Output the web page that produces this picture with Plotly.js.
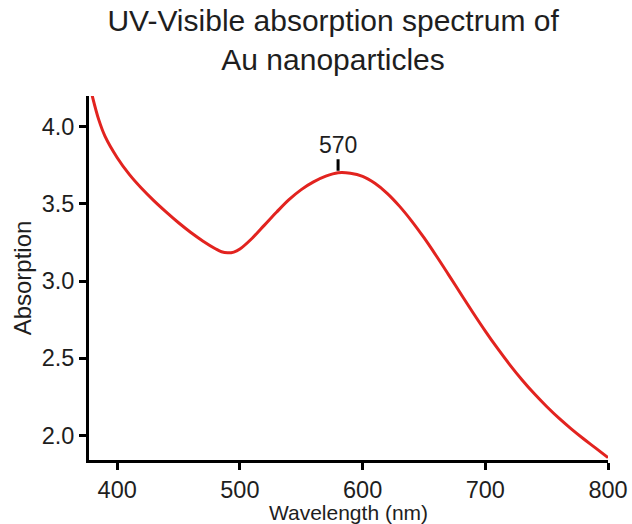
<!DOCTYPE html>
<html>
<head>
<meta charset="utf-8">
<script src="https://cdn.plot.ly/plotly-3.0.1.min.js"></script>
<style>html,body{margin:0;padding:0;background:#fff;}#chart{width:632px;height:524px;}</style>
</head>
<body>
<div id="chart"></div>
<script>
// Wavelength (nm)
const wavelength = [378, 380, 385, 390, 400, 410, 420, 430, 440, 450, 460, 470, 480, 485, 490, 495, 500, 510, 520, 530, 540, 550, 560, 570, 580, 590, 600, 610, 620, 630, 640, 650, 660, 670, 680, 690, 700, 710, 720, 730, 740, 750, 760, 770, 780, 790, 800];
// Absorption
const absorption = [4.26, 4.19, 4.045, 3.94, 3.80, 3.69, 3.60, 3.52, 3.447, 3.378, 3.315, 3.259, 3.21, 3.19, 3.183, 3.188, 3.208, 3.278, 3.363, 3.448, 3.528, 3.593, 3.643, 3.680, 3.702, 3.699, 3.679, 3.634, 3.569, 3.486, 3.389, 3.281, 3.164, 3.042, 2.918, 2.795, 2.676, 2.563, 2.457, 2.359, 2.269, 2.187, 2.111, 2.042, 1.978, 1.917, 1.855];
const peakLabel = "570";
const xTicks = [400, 500, 600, 700, 800];
const yTicks = [2.0, 2.5, 3.0, 3.5, 4.0];

// locate the interior local maximum (the plasmon peak)
let iPeak = 1;
for (let i = 1; i < absorption.length - 1; i++) {
  if (absorption[i] > absorption[i - 1] && absorption[i] >= absorption[i + 1]) { iPeak = i; break; }
}

const font = "Liberation Sans, Arial, Helvetica, sans-serif";
const textColor = "#1e1e1e";

const trace = {
  x: wavelength,
  y: absorption,
  type: "scatter",
  mode: "lines",
  line: {color: "#e2231f", width: 3, shape: "spline", smoothing: 1},
  hoverinfo: "x+y",
  showlegend: false
};

const axisCommon = {
  showline: true,
  linecolor: "#000",
  linewidth: 3,
  ticks: "outside",
  tickwidth: 3,
  ticklen: 7,
  tickcolor: "#000",
  showgrid: false,
  zeroline: false,
  tickfont: {family: font, size: 23.5, color: textColor}
};

const layout = {
  width: 632,
  height: 524,
  margin: {l: 89, r: 24, t: 96, b: 64, pad: 0},
  paper_bgcolor: "#fff",
  plot_bgcolor: "#fff",
  font: {family: font, color: textColor},
  title: {
    text: "UV-Visible absorption spectrum of<br>Au nanoparticles",
    font: {family: font, size: 30, color: textColor},
    x: 0.527,
    xanchor: "center",
    xref: "container",
    y: 0.94,
    yref: "container",
    yanchor: "middle"
  },
  xaxis: Object.assign({}, axisCommon, {
    range: [377, 800],
    tickmode: "array",
    tickvals: xTicks,
    ticktext: xTicks.map(String),
    title: {text: "Wavelength (nm)", font: {family: font, size: 21, color: textColor}, standoff: 2}
  }),
  yaxis: Object.assign({}, axisCommon, {
    range: [1.84, 4.2],
    tickmode: "array",
    tickvals: yTicks,
    ticktext: yTicks.map(v => v.toFixed(1)),
    title: {text: "Absorption", font: {family: font, size: 24, color: textColor}, standoff: 4}
  }),
  annotations: [{
    x: wavelength[iPeak],
    y: absorption[iPeak],
    xref: "x",
    yref: "y",
    text: peakLabel,
    showarrow: true,
    arrowhead: 0,
    arrowwidth: 3,
    arrowcolor: "#000000",
    ax: 0,
    ay: -28,
    standoff: 2,
    font: {family: font, size: 23, color: textColor}
  }]
};

Plotly.newPlot("chart", [trace], layout, {displayModeBar: false});
</script>
</body>
</html>
